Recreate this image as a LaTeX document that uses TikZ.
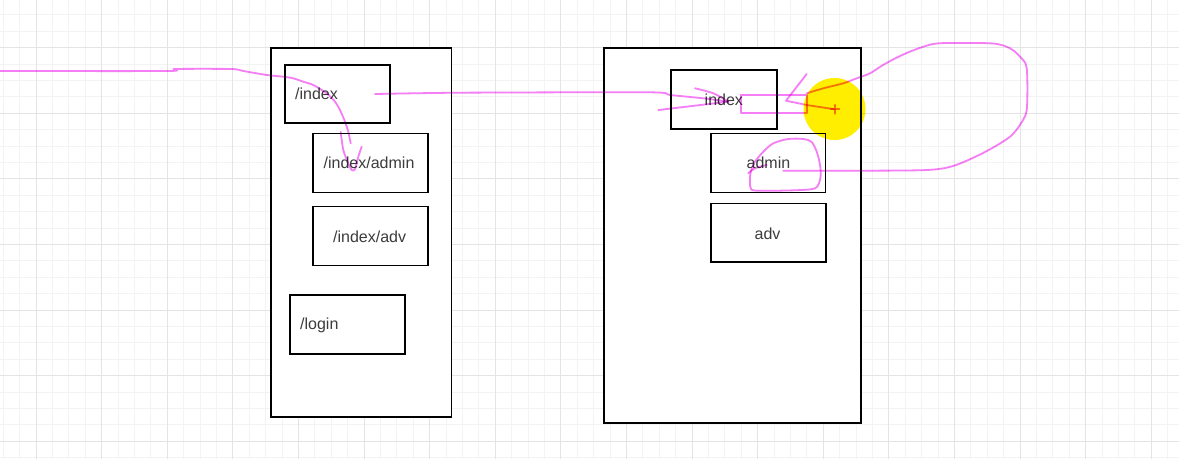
\documentclass[tikz,border=0pt]{standalone}
\usepackage{fontspec}
\setmainfont{Liberation Sans}
\definecolor{pinkpen}{RGB}{245,125,245}
\definecolor{hilite}{RGB}{255,238,0}
\definecolor{gridminor}{RGB}{243,243,243}
\definecolor{gridmajor}{RGB}{228,228,228}
\definecolor{labelgray}{RGB}{60,60,60}
\tikzset{
  box/.style={draw=black, line width=1.7pt, fill=white, inner sep=0pt, anchor=north west},
  lbl/.style={inner sep=0pt, anchor=west, text=labelgray, font=\fontsize{16}{19}\selectfont},
  pen/.style={draw=pinkpen, line width=1.8pt, line cap=round, line join=round, blend mode=multiply},
  minorline/.style={draw=gridminor, line width=0.8pt},
  majorline/.style={draw=gridmajor, line width=0.8pt}
}
\begin{document}
\begin{tikzpicture}[x=1pt,y=-1pt]
\useasboundingbox (0,0) rectangle (1179,459);
\fill[white] (0,0) rectangle (1179,459);
% grid
\foreach \i in {-2,...,70} {\draw[minorline] ({36+16.4*\i},0) -- ({36+16.4*\i},459);}
\foreach \j in {-2,...,26} {\draw[minorline] (0,{47.5+16.4*\j}) -- (1179,{47.5+16.4*\j});}
\foreach \i in {0,...,17} {\draw[majorline] ({36+65.6*\i},0) -- ({36+65.6*\i},459);}
\foreach \j in {0,...,6} {\draw[majorline] (0,{47.5+65.6*\j}) -- (1179,{47.5+65.6*\j});}
% left frame
\node[box, minimum width=180.5pt, minimum height=369pt] (lframe) at (270,47.3) {};
\node[box, minimum width=105pt, minimum height=58pt] (lindex) at (284,64) {};
\node[box, minimum width=115pt, minimum height=59pt] (ladmin) at (312.3,132.7) {};
\node[box, minimum width=115pt, minimum height=59pt] (ladv) at (312.3,205.7) {};
\node[box, minimum width=115pt, minimum height=59pt] (llogin) at (289.3,294.3) {};
\node[lbl] (tlindex) at (295,94) {/index};
\node[lbl] (tladmin) at (323.5,162.5) {/index/admin};
\node[lbl] (tladv) at (333,237) {/index/adv};
\node[lbl] (tllogin) at (300,325) {/login};
% right frame
\node[box, minimum width=256.5pt, minimum height=375pt] (rframe) at (603.3,47.3) {};
\node[box, minimum width=105.5pt, minimum height=58.7pt] (rindex) at (670.3,69.3) {};
\node[box, minimum width=114.7pt, minimum height=59pt] (radmin) at (710,132.7) {};
\node[box, minimum width=115pt, minimum height=58.6pt] (radv) at (710,202.7) {};
\node[lbl] (trindex) at (704.5,100) {index};
\node[lbl] (tradmin) at (746.5,163) {admin};
\node[lbl, anchor=center] (tradv) at (767.5,233.5) {adv};
% highlight
\fill[hilite, blend mode=multiply] (834.5,109) circle (31);
% pen strokes
\draw[pen] plot[smooth, tension=0.4] coordinates {(0,71) (168.3,71) (175,69) (231.7,69) (243.3,71) (266.7,75) (283.3,76.7) (293.3,78.3) (303.3,81.7) (313.3,85) (326.7,93.3) (335,101.7) (340,110) (345,121.7) (348.3,131.7) (350.7,143.3)};
\draw[pen] plot[smooth, tension=0.5] coordinates {(340.7,131.7) (343.3,150) (348.3,163.3) (351.7,170) (355,169.3) (358.3,156.7) (361.7,146.7)};
\draw[pen] plot[smooth, tension=0.4] coordinates {(375,94) (460,92.7) (650,92.3) (670,95) (703.3,98.3) (728.3,101.7)};
\draw[pen] (658.3,110) -- (728.3,101.7);
\draw[pen] plot[smooth, tension=0.5] coordinates {(695,88.3) (713.3,93.3) (728.3,101.7)};
\draw[pen] (740.7,95) rectangle (806.7,112.7);
\draw[pen] (806.7,74) -- (786,100.7) -- (806.7,105) -- (835,109.3);
\draw[pen] (830.5,109.3) -- (839.5,109.3) (835,104.8) -- (835,113.8);
\draw[pen] plot[smooth, tension=0.5] coordinates {(806.7,93.3) (823.3,88.3) (843.3,83.3) (856.7,78.3) (870,73.3) (883,65) (900,56) (916.7,49) (933,44) (950,43) (993,43.5) (1010,48.3) (1020,56.7) (1026.7,68) (1027,106.7) (1023,120) (1010,136.7) (983,153) (953,166) (926.7,170) (866.7,170.7) (840,170.7) (783.3,170.7)};
\draw[pen] plot[smooth cycle, tension=0.5] coordinates {(750,176.7) (750.5,187.5) (756.7,190.7) (796.7,190.2) (815,188.3) (820,180) (820.5,168.3) (817.3,153.3) (811.7,142) (803.3,139) (788.3,139) (773.3,143.3) (763.3,151.7) (755,161.7) (750.7,171.7)};
\draw[pen] plot[smooth, tension=0.5] coordinates {(748.3,173.3) (755,168.3) (766.7,165)};
\end{tikzpicture}
\end{document}
